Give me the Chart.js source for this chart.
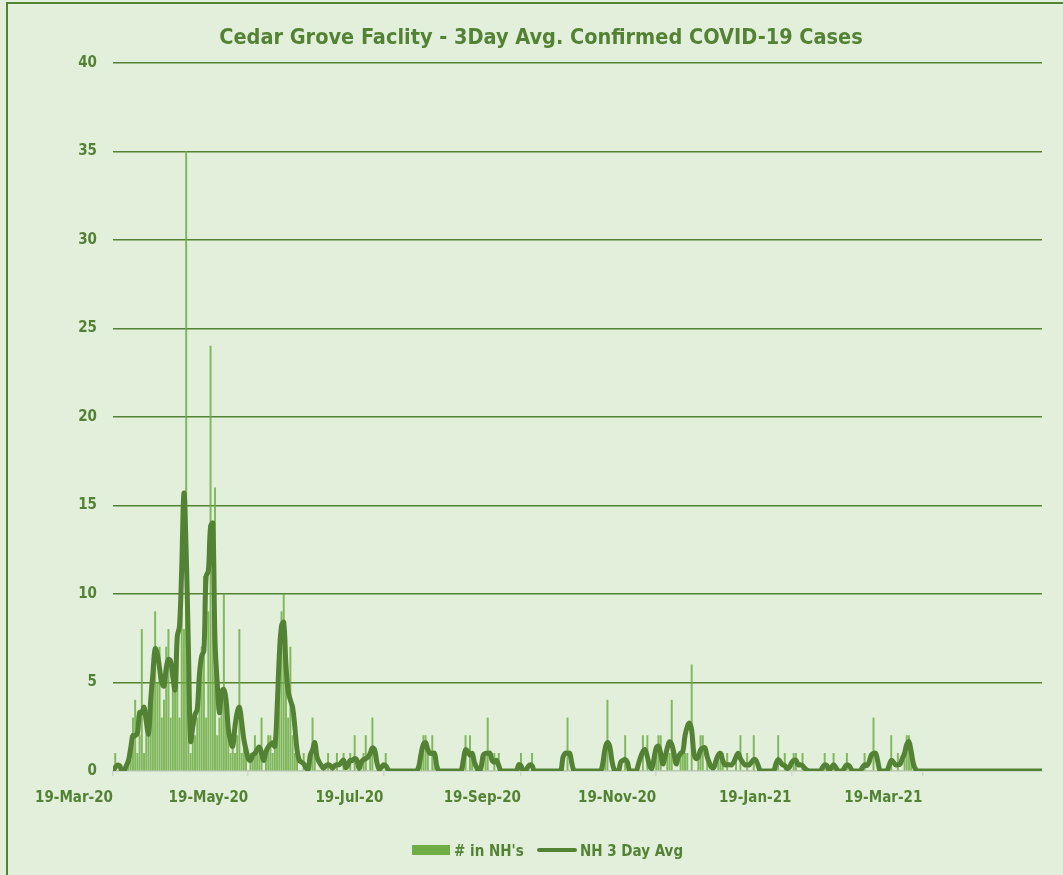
<!DOCTYPE html>
<html>
<head>
<meta charset="utf-8">
<script src="https://cdn.jsdelivr.net/npm/chart.js@4.4.1/dist/chart.umd.min.js"></script>
<style>
  body { margin: 0; background: #E2EFDA; }
  #wrap { position: relative; width: 1063px; height: 875px; overflow: hidden; background: #E2EFDA; }
  #frame { position: absolute; left: 6px; top: 2px; width: 1100px; height: 900px;
           border-left: 2px solid #548235; border-top: 2px solid #548235; }
  #title { position: absolute; left: 0; width: 1082px; top: 24px; text-align: center;
           font: bold 21.5px 'DejaVu Sans Condensed', sans-serif; color: #548235; }
  .leg { position: absolute; top: 842px; font: bold 15px 'DejaVu Sans Condensed', sans-serif; color: #548235; white-space: nowrap; }
  .swatch { position: absolute; }
  canvas { position: absolute; left: 0; top: 0; }
</style>
</head>
<body>
<div id="wrap">
  <div id="frame"></div>
  <canvas id="myChart" width="1063" height="875"></canvas>
  <div id="title">Cedar Grove Faclity - 3Day Avg. Confirmed COVID-19 Cases</div>
  <div class="swatch" style="left:412px;top:845px;width:38px;height:10px;background:#70AD47"></div>
  <div class="leg" style="left:454px"># in NH's</div>
  <div class="swatch" style="left:537px;top:848px;width:40px;height:4px;background:#548235;border-radius:2px"></div>
  <div class="leg" style="left:580px">NH 3 Day Avg</div>
</div>
<script>
// day 0 = 19-Mar-20, one value per day
const cases = [
  0,1,0,0,0,0,0,1,2,3,
  4,1,2,8,1,2,3,5,6,9,
  5,7,3,4,7,8,3,5,6,7,
  3,9,8,35,4,1,2,2,3,5,
  7,11,3,9,24,9,16,2,3,4,
  10,3,2,1,2,1,2,8,1,2,
  1,0,1,1,2,1,1,3,0,1,
  2,2,1,2,2,5,9,10,6,3,
  7,2,1,1,0,0,1,0,0,1,
  3,1,0,0,0,0,0,1,0,0,
  0,1,0,0,1,0,0,1,0,2,
  0,0,0,1,2,0,1,3,0,0,
  0,0,0,1,0,0,0,0,0,0,
  0,0,0,0,0,0,0,0,0,1,
  2,2,1,0,2,1,0,0,0,0,
  0,0,0,0,0,0,0,0,1,2,
  0,2,1,0,0,0,0,0,1,3,
  0,0,1,0,1,0,0,0,0,0,
  0,0,0,0,1,0,0,0,0,1,
  0,0,0,0,0,0,0,0,0,0,
  0,0,0,1,0,3,0,0,0,0,
  0,0,0,0,0,0,0,0,0,0,
  0,0,1,4,0,0,0,0,0,0,
  0,2,0,0,0,0,0,0,0,2,
  0,2,0,0,0,1,2,2,0,0,
  1,1,4,0,0,0,1,1,1,1,
  0,6,0,0,1,2,2,0,1,0,
  0,0,0,1,1,1,0,1,0,0,
  0,1,0,2,0,0,1,0,0,2,
  0,0,0,0,0,0,0,0,0,0,
  2,0,0,1,0,0,0,1,1,0,
  0,1,0,0,0,0,0,0,0,0,
  0,1,0,0,0,1,0,0,0,0,
  0,1,0,0,0,0,0,0,0,1,
  0,0,0,3,0,0,0,0,0,0,
  0,2,0,0,1,0,0,1,2,2,
  1,0,0,0,0,0,0,0,0,0,
  0,0,0,0,0,0,0,0,0,0,
  0,0,0,0,0,0,0,0,0,0,
  0,0,0,0,0,0,0,0,0,0,
  0,0,0,0,0,0,0,0,0,0,
  0,0,0,0,0,0,0,0,0,0
];

const avg3 = [
  0,0.2,0.33,0.3,0,0,0.3,0.6,1.3,2.0,
  2.0,2.1,3.3,3.3,3.6,2.8,2.1,4.0,5.5,6.9,
  6.6,5.8,5.0,4.8,5.8,6.3,6.2,5.3,4.6,7.6,
  8.2,11.5,15.7,12.4,7.0,1.7,2.5,3.2,3.5,5.5,
  6.5,6.8,11.0,11.3,13.8,14.0,7.4,5.0,3.3,4.5,
  4.6,4.0,2.4,1.7,1.4,2.5,3.3,3.6,2.8,1.8,
  1.2,0.7,0.6,0.9,1.0,1.2,1.35,1.0,0.6,1.1,
  1.35,1.5,1.6,1.4,3.5,6.5,8.2,8.4,6.0,4.5,
  4.0,3.6,2.5,1.2,0.6,0.5,0.4,0.2,0.1,0.9,
  1.2,1.6,0.8,0.5,0.3,0.15,0.3,0.35,0.3,0.15,
  0.3,0.35,0.35,0.5,0.6,0.2,0.35,0.6,0.6,0.7,
  0.6,0.15,0.5,0.65,0.7,0.8,1.0,1.3,1.2,0.5,
  0.1,0.2,0.35,0.3,0.1,0,0,0,0,0,
  0,0,0,0,0,0,0,0,0.3,1.0,
  1.5,1.6,1.2,1.0,1.0,1.0,0.3,0,0,0,
  0,0,0,0,0,0,0,0,0.6,1.2,
  1.1,0.9,1.0,0.5,0.2,0,0.2,0.9,1.0,1.0,
  1.0,0.6,0.5,0.6,0.3,0,0,0,0,0,
  0,0,0,0.35,0.3,0,0,0.2,0.35,0.3,
  0,0,0,0,0,0,0,0,0,0,
  0,0,0,0.8,1.0,1.0,1.0,0.4,0,0,
  0,0,0,0,0,0,0,0,0,0,
  0,0.5,1.3,1.6,1.4,0.6,0.1,0,0,0.5,
  0.6,0.65,0.5,0,0,0,0,0.4,0.8,1.1,
  1.2,0.8,0.3,0.15,0.7,1.3,1.4,1.0,0.4,0.8,
  1.3,1.65,1.5,1.0,0.4,0.8,1.0,1.1,2.0,2.5,
  2.7,2.3,1.0,0.7,0.8,1.2,1.3,1.3,0.8,0.45,
  0.2,0.2,0.6,0.9,1.0,0.6,0.35,0.35,0.35,0.35,
  0.5,0.8,1.0,0.7,0.5,0.35,0.35,0.35,0.5,0.65,
  0.6,0.3,0,0,0,0,0,0,0,0.4,
  0.65,0.5,0.35,0.3,0.15,0.2,0.45,0.6,0.6,0.35,
  0.35,0.3,0.15,0.05,0,0,0,0,0,0,
  0.2,0.35,0.3,0.05,0.2,0.35,0.2,0,0,0,
  0.2,0.35,0.3,0.1,0,0,0,0,0.2,0.35,
  0.3,0.5,0.9,1.0,1.0,0.5,0,0,0,0,
  0.3,0.6,0.5,0.35,0.35,0.4,0.7,1.0,1.5,1.65,
  1.1,0.4,0.1,0,0,0,0,0,0,0,
  0,0,0,0,0,0,0,0,0,0,
  0,0,0,0,0,0,0,0,0,0,
  0,0,0,0,0,0,0,0,0,0,
  0,0,0,0,0,0,0,0,0,0,
  0,0,0,0,0,0,0,0,0,0
];

// x tick positions (days after 19-Mar-20) and their labels
const tickDays = [0, 61, 122, 184, 245, 306, 365];
const tickLabels = ['19-Mar-20', '19-May-20', '19-Jul-20', '19-Sep-20', '19-Nov-20', '19-Jan-21', '19-Mar-21'];
const yTicks = [0, 5, 10, 15, 20, 25, 30, 35, 40];

const green = '#548235';
const tickFont = { family: "'DejaVu Sans Condensed', sans-serif", size: 15, weight: 'bold' };

const barPoints = cases.map((v, i) => ({ x: i, y: v }));
const avgPoints = avg3.map((v, i) => ({ x: i, y: v }));

const config = {
  type: 'bar',
  data: {
    datasets: [
      {
        type: 'line',
        label: 'NH 3 Day Avg',
        data: avgPoints,
        borderColor: green,
        borderWidth: 5,
        pointRadius: 0,
        tension: 0.4,
        order: 1
      },
      {
        label: "# in NH's",
        data: barPoints,
        backgroundColor: 'rgba(112,173,71,0.85)',
        barThickness: 1.3,
        order: 2
      }
    ]
  },
  options: {
    responsive: false,
    animation: false,
    layout: { padding: { top: 63, right: 21, left: 0, bottom: 0 } },
    plugins: {
      legend: { display: false },
      tooltip: { enabled: false },
      title: { display: false }
    },
    scales: {
      x: {
        type: 'linear',
        offset: false,
        min: 0,
        max: 419,
        afterBuildTicks: (scale) => { scale.ticks = tickDays.map(v => ({ value: v })); },
        afterFit: (scale) => { scale.height = 104; },
        grid: { offset: false, drawOnChartArea: false, drawTicks: true, tickLength: 5, color: '#D0D8CC', lineWidth: 1.5 },
        border: { color: '#D0D8CC', width: 2 },
        ticks: {
          align: 'end',
          padding: 13,
          maxRotation: 0,
          autoSkip: false,
          color: green,
          font: tickFont,
          callback: (value) => tickLabels[tickDays.indexOf(value)]
        }
      },
      y: {
        min: 0,
        max: 40,
        afterBuildTicks: (scale) => { scale.ticks = yTicks.map(v => ({ value: v })); },
        afterFit: (scale) => { scale.width = 113; },
        grid: {
          color: (ctx) => ctx.tick && ctx.tick.value === 0 ? 'rgba(0,0,0,0)' : green,
          lineWidth: 1.6,
          drawTicks: false
        },
        border: { display: false },
        ticks: { padding: 16, color: green, font: tickFont }
      }
    }
  }
};

const myChart = new Chart(document.getElementById('myChart'), config);
</script>
</body>
</html>
